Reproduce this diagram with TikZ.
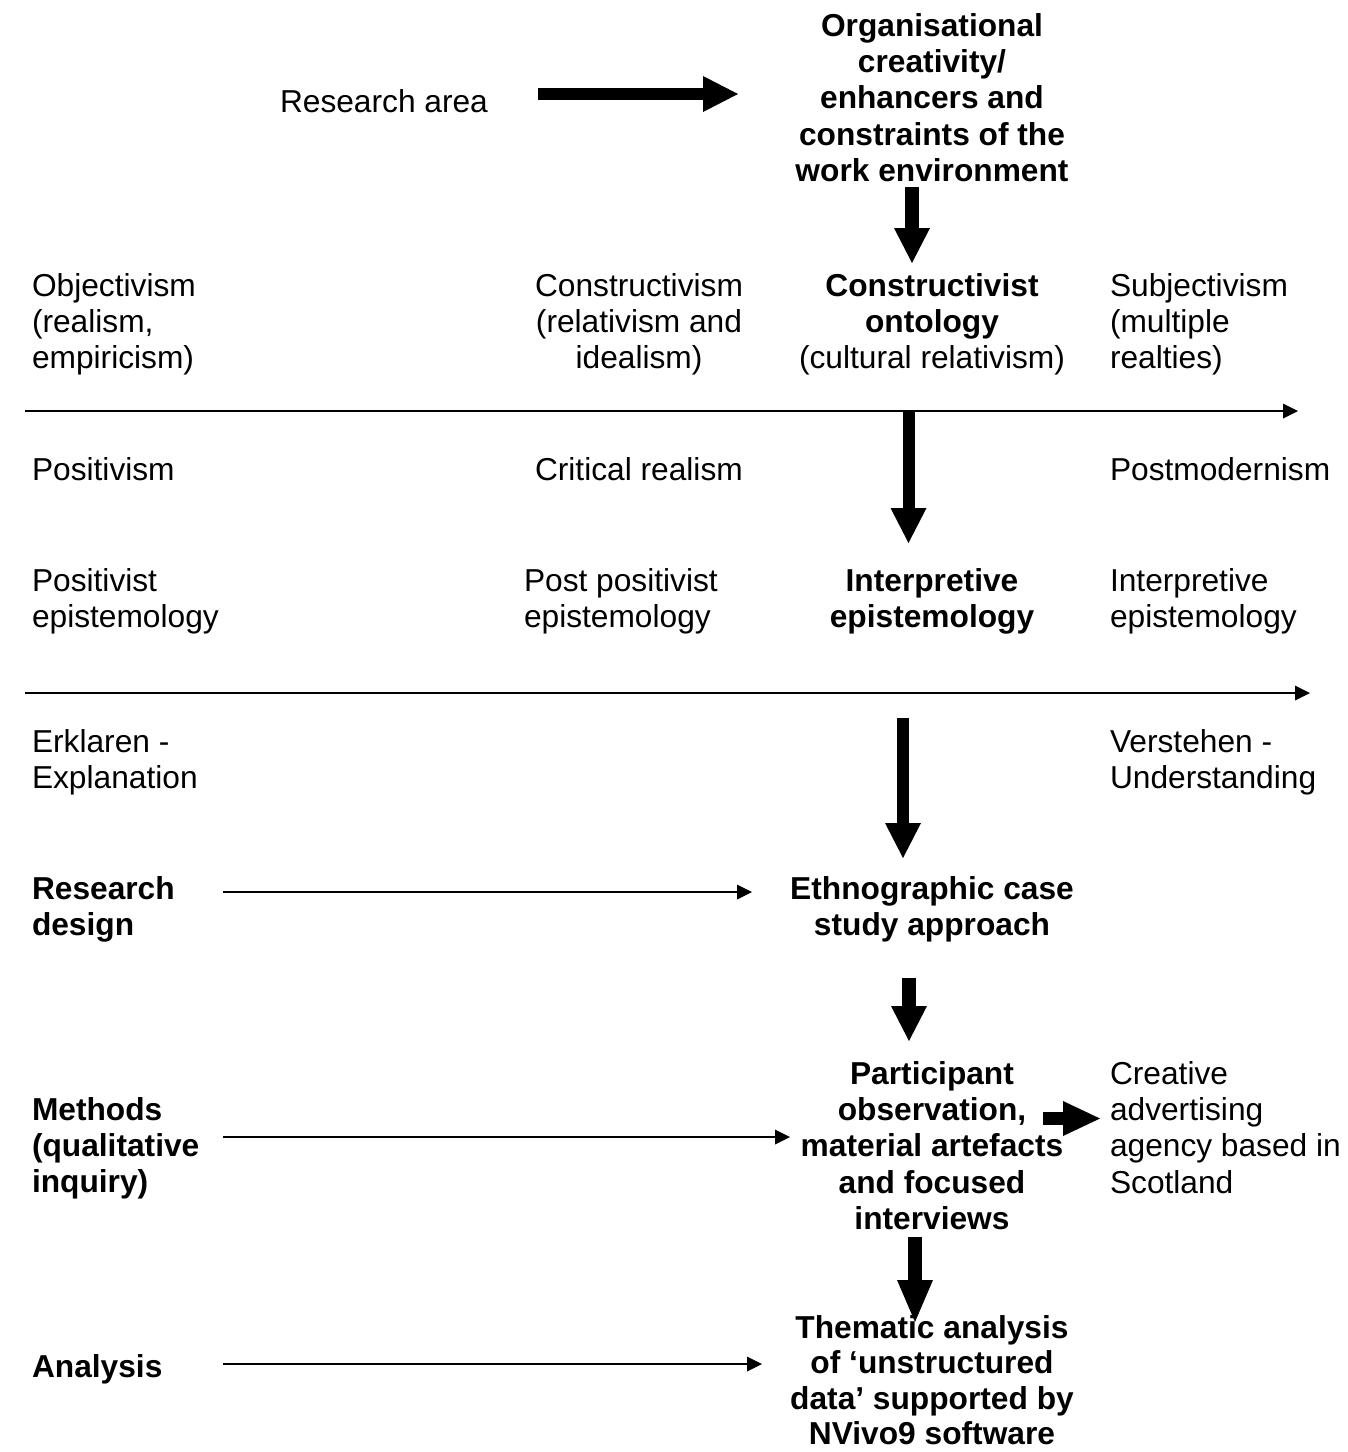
\documentclass[tikz,border=0pt]{standalone}
\usepackage{fontspec}
\setmainfont{Liberation Sans}
\usetikzlibrary{arrows.meta}
% stacked lines whose baseline is the first line's baseline
\newcommand\leftlines[1]{\begin{tabular}[t]{@{}l@{}}#1\end{tabular}}
\newcommand\midlines[1]{\begin{tabular}[t]{@{}c@{}}#1\end{tabular}}
\begin{document}
\begin{tikzpicture}[x=1pt,y=-1pt,
  txt/.style={inner sep=0pt,outer sep=0pt,font=\fontsize{31.7}{36.4}\selectfont},
  lefttxt/.style={txt,anchor=base west},
  midtxt/.style={txt,anchor=base},
  boldtxt/.style={font=\fontsize{31.7}{36.4}\selectfont\bfseries},
  blockarrow/.style={line width=#1,
    -{Triangle[length=35pt,width=36pt,line width=0pt]}},
  blockarrow/.default=12pt,
  thinarrow/.style={line width=2pt,
    -{Triangle[length=15pt,width=15pt,line width=0pt]}},
  axis/.style={line width=2pt,
    -{Triangle[length=15pt,width=15pt,line width=0pt]}}]
\useasboundingbox (0,0) rectangle (1348,1452);

% research area
\node[lefttxt] (area) at (280,112) {Research area};
\node[midtxt,boldtxt] (topic) at (932,36) {\midlines{Organisational\\creativity/\\enhancers and\\constraints of the\\work environment}};

% ontology row
\node[lefttxt] (obj) at (32,296) {\leftlines{Objectivism\\(realism,\\empiricism)}};
\node[midtxt] (cons) at (639,296) {\midlines{Constructivism\\(relativism and\\idealism)}};
\node[midtxt] (onto) at (932,296) {\midlines{\textbf{Constructivist}\\\textbf{ontology}\\(cultural relativism)}};
\node[lefttxt] (subj) at (1110,296) {\leftlines{Subjectivism\\(multiple\\realties)}};

% first axis
\coordinate (ax1s) at (25,411);
\coordinate (ax1e) at (1298,411);
\draw[axis] (ax1s) -- (ax1e);

% philosophy row
\node[lefttxt] (pos) at (32,480) {Positivism};
\node[lefttxt] (crit) at (535,480) {Critical realism};
\node[lefttxt] (postm) at (1110,480) {Postmodernism};

% epistemology row
\node[lefttxt] (posep) at (32,591) {\leftlines{Positivist\\epistemology}};
\node[lefttxt] (ppos) at (524,591) {\leftlines{Post positivist\\epistemology}};
\node[midtxt,boldtxt] (interp) at (932,591) {\midlines{Interpretive\\epistemology}};
\node[lefttxt] (interpr) at (1110,591) {\leftlines{Interpretive\\epistemology}};

% second axis
\coordinate (ax2s) at (25,693);
\coordinate (ax2e) at (1310,693);
\draw[axis] (ax2s) -- (ax2e);

\node[lefttxt] (erk) at (32,752) {\leftlines{Erklaren -\\Explanation}};
\node[lefttxt] (vers) at (1110,752) {\leftlines{Verstehen -\\Understanding}};

% research design
\node[lefttxt,boldtxt] (rdes) at (32,899) {\leftlines{Research\\design}};
\node[midtxt,boldtxt] (ethno) at (932,899) {\midlines{Ethnographic case\\study approach}};

% methods
\node[midtxt,boldtxt] (part) at (932,1084) {\midlines{Participant\\observation,\\material artefacts\\and focused\\interviews}};
\node[lefttxt] (agency) at (1110,1084) {\leftlines{Creative\\advertising\\agency based in\\Scotland}};
\node[lefttxt,boldtxt] (meth) at (32,1120) {\leftlines{Methods\\(qualitative\\inquiry)}};

% analysis
\node[lefttxt,boldtxt] (anal) at (32,1377) {Analysis};
\node[midtxt,font=\fontsize{31.7}{35.5}\selectfont\bfseries] (them) at (932,1338) {\midlines{Thematic analysis\\of `unstructured\\data' supported by\\NVivo9 software}};

% connector end points
\coordinate (a1s) at (538,94);    \coordinate (a1e) at (738,94);
\coordinate (v1s) at (912,187);   \coordinate (v1e) at (912,263);
\coordinate (v2s) at (908.5,411); \coordinate (v2e) at (908.5,543);
\coordinate (v3s) at (903,718);   \coordinate (v3e) at (903,858);
\coordinate (v4s) at (909,978);   \coordinate (v4e) at (909,1041);
\coordinate (v5s) at (915,1237);  \coordinate (v5e) at (915,1322);
\coordinate (h1s) at (1043,1118.5); \coordinate (h1e) at (1100,1118.5);
\coordinate (t1s) at (223,892);   \coordinate (t1e) at (752,892);
\coordinate (t2s) at (223,1137);  \coordinate (t2e) at (790,1137);
\coordinate (t3s) at (223,1364);  \coordinate (t3e) at (762,1364);

% thick block arrows
\draw[blockarrow] (a1s) -- (a1e);
\draw[blockarrow=14pt] (v1s) -- (v1e);
\draw[blockarrow] (v2s) -- (v2e);
\draw[blockarrow] (v3s) -- (v3e);
\draw[blockarrow=14pt] (v4s) -- (v4e);
\draw[line width=14pt,-{Triangle[length=42pt,width=36pt,line width=0pt]}] (v5s) -- (v5e);
\draw[line width=13pt,-{Triangle[length=37pt,width=35pt,line width=0pt]}] (h1s) -- (h1e);

% thin arrows
\draw[thinarrow] (t1s) -- (t1e);
\draw[thinarrow] (t2s) -- (t2e);
\draw[thinarrow] (t3s) -- (t3e);
\end{tikzpicture}
\end{document}
